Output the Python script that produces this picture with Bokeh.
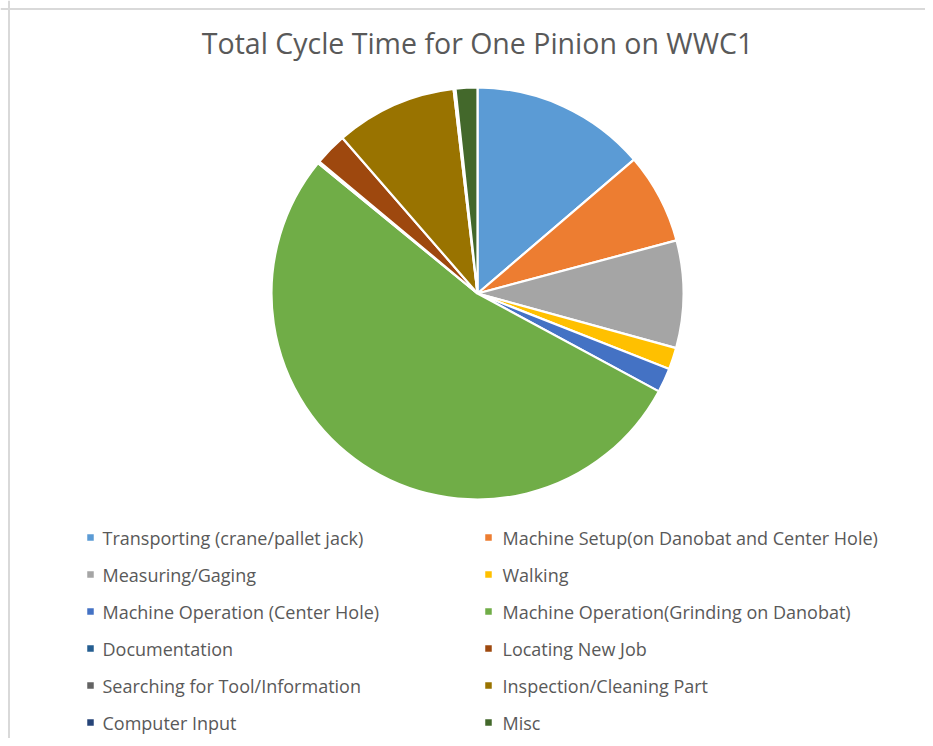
import numpy as np
from bokeh.plotting import figure
from bokeh.models import Range1d, Label, Span, ColumnDataSource
from bokeh.core.properties import value
from bokeh.embed import file_html
from bokeh.resources import INLINE

# ---- data (percent of total cycle time) ----
categories = [
    "Transporting (crane/pallet jack)",
    "Machine Setup(on Danobat and Center Hole)",
    "Measuring/Gaging",
    "Walking",
    "Machine Operation (Center Hole)",
    "Machine Operation(Grinding on Danobat)",
    "Documentation",
    "Locating New Job",
    "Searching for Tool/Information",
    "Inspection/Cleaning Part",
    "Computer Input",
    "Misc",
]
shares = [13.7, 7.1, 8.4, 1.7, 1.9, 52.9, 0.15, 2.55, 0.0, 9.5, 0.15, 1.7]
colors = [
    "#5B9BD5", "#ED7D31", "#A5A5A5", "#FFC000", "#4472C4", "#70AD47",
    "#255E91", "#9E480E", "#636363", "#997300", "#264478", "#43682B",
]
title_text = "Total Cycle Time for One Pinion on WWC1"

# ---- layout (pixel coordinates; y is negated) ----
W, H = 925, 738
p = figure(width=W, height=H, output_backend="svg", toolbar_location=None,
           x_range=Range1d(0, W), y_range=Range1d(-H, 0),
           x_axis_type=None, y_axis_type=None, min_border=0,
           outline_line_color=None, background_fill_color="white",
           border_fill_color="white")
p.grid.visible = False

# chart-area border (top + left visible in the reference)
p.add_layout(Span(location=-8.5, dimension="width", line_color="#d9d9d9", line_width=2))
p.add_layout(Span(location=8.5, dimension="height", line_color="#d9d9d9", line_width=2))

# ---- pie ----
vals = np.array(shares, dtype=float)
frac = vals / vals.sum()
cum = np.concatenate([[0.0], np.cumsum(frac)])
start = np.pi / 2 - cum[:-1] * 2 * np.pi
end = np.pi / 2 - cum[1:] * 2 * np.pi
mask = vals > 0
src = ColumnDataSource(dict(
    start=start[mask], end=end[mask],
    color=[c for c, m in zip(colors, mask) if m],
    name=[n for n, m in zip(categories, mask) if m],
))
cx, cy, r = 477, -293, 206
p.wedge(x=cx, y=cy, radius=r, start_angle="start", end_angle="end",
        direction="clock", fill_color="color", line_color="white",
        line_width=2.2, source=src)

# ---- title ----
p.add_layout(Label(x=477, y=-42, text=title_text, text_align="center",
                   text_baseline="middle", text_font="Open Sans",
                   text_font_size="28.5px", text_color="#595959"))

# ---- legend (two columns) ----
n = len(categories)
col = np.arange(n) % 2
row = np.arange(n) // 2
sq_x = np.where(col == 0, 90, 488)
txt_x = np.where(col == 0, 102, 502)
sq_y = -(537 + row * 37.0)
tx_y = -(537 + row * 37.0)
leg = ColumnDataSource(dict(sx=sq_x, tx=txt_x, sy=sq_y, ty=tx_y,
                            color=colors, label=categories))
p.scatter(x="sx", y="sy", marker="square", size=6.5, fill_color="color",
          line_color=None, source=leg)
p.text(x="tx", y="ty", text="label", text_baseline="middle",
       text_font=value("Open Sans"), text_font_size="18px",
       text_color="#595959", source=leg)

open("out.html", "w").write(file_html(p, INLINE))
